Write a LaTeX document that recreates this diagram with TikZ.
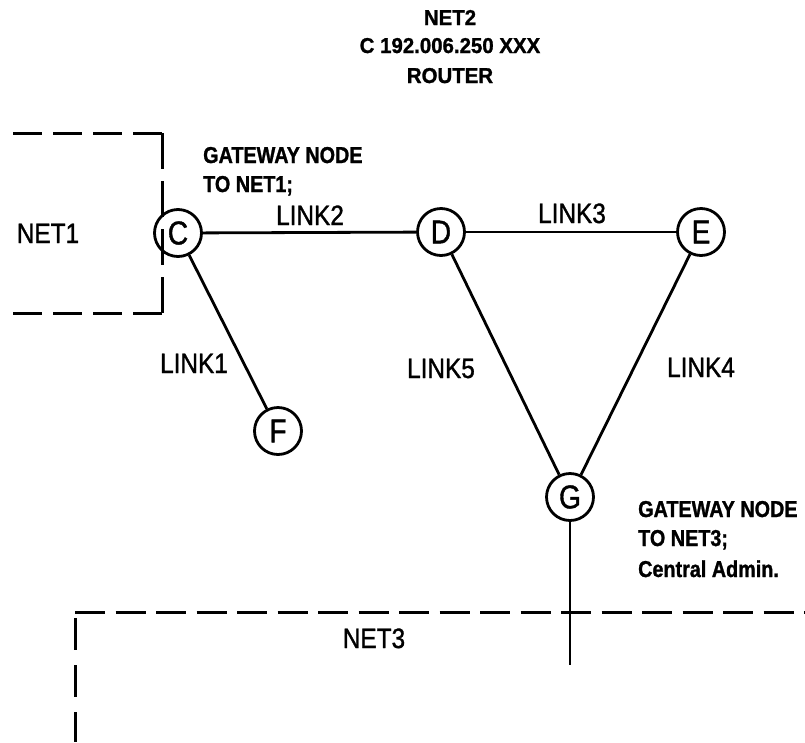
\documentclass[tikz,border=0pt]{standalone}
\usepackage{fontspec}
\newfontfamily\labfont[FakeStretch=0.87,FakeBold=1.2]{Liberation Sans}
\newfontfamily\nodefont[FakeStretch=0.85,FakeBold=1.2]{Liberation Sans}
\newfontfamily\bldfont[FakeStretch=0.86,FakeBold=1.2]{Liberation Sans}
\newfontfamily\hdrfont[FakeStretch=0.95,FakeBold=1.2]{Liberation Sans}
\begin{document}
\begin{tikzpicture}[x=1pt,y=-1pt,
  netnode/.style={circle,draw,line width=2.8pt,minimum size=47pt,inner sep=0pt,
    font=\nodefont\fontsize{33}{35}\selectfont},
  lbl/.style={inner sep=0pt,anchor=base,font=\labfont\fontsize{28}{30}\selectfont},
  note/.style={inner sep=0pt,anchor=base west,font=\bldfont\bfseries\fontsize{23}{26}\selectfont},
  hdr/.style={inner sep=0pt,anchor=base,font=\hdrfont\bfseries\fontsize{21.5}{24}\selectfont},
  link/.style={line width=2.8pt},
  thinlink/.style={line width=2pt},
  netedge/.style={line width=3pt,dash pattern=on 29pt off 11pt},
  netedgev/.style={line width=3pt,dash pattern=on 36pt off 12pt}]
\useasboundingbox (0,0) rectangle (805,742);
% header
\node[hdr] (h1) at (450,25) {NET2};
\node[hdr] (h2) at (450,53) {C 192.006.250 XXX};
\node[hdr] (h3) at (450,83) {ROUTER};
% NET1 box
\draw[netedge] (13,133) -- (162,133);
\draw[netedgev] (162,133) -- (162,313);
\draw[netedge] (13,313) -- (162,313);
\node[lbl] (net1) at (48,243) {NET1};
% NET3 box
\draw[line width=3pt,dash pattern=on 30pt off 10.5pt] (75,612) -- (805,612);
\draw[line width=3pt,dash pattern=on 32pt off 15pt] (75,618) -- (75,742);
\node[lbl] (net3) at (374,648) {NET3};
% nodes
\node[netnode] (C) at (178,233) {C};
\node[netnode] (D) at (441,232) {D};
\node[netnode] (E) at (701,232) {E};
\node[netnode] (F) at (278,431) {F};
\node[netnode] (G) at (570,497) {G};
\coordinate (Gend) at (570,665);
% links
\draw[link] (C) -- (D);
\draw[thinlink] (D) -- (E);
\draw[link] (C) -- (F);
\draw[link] (D) -- (G);
\draw[link] (E) -- (G);
\draw[link] (G) -- (Gend);
% link labels
\node[lbl] (l2) at (310,225) {LINK2};
\node[lbl] (l3) at (572,223) {LINK3};
\node[lbl] (l1) at (194,373) {LINK1};
\node[lbl] (l5) at (441,378) {LINK5};
\node[lbl] (l4) at (701,377) {LINK4};
% notes
\node[note] (n1a) at (203,163) {GATEWAY NODE};
\node[note] (n1b) at (203,192) {TO NET1;};
\node[note] (n3a) at (638,517) {GATEWAY NODE};
\node[note] (n3b) at (638,546) {TO NET3;};
\node[note] (n3c) at (638,577) {Central Admin.};
\end{tikzpicture}
\end{document}
